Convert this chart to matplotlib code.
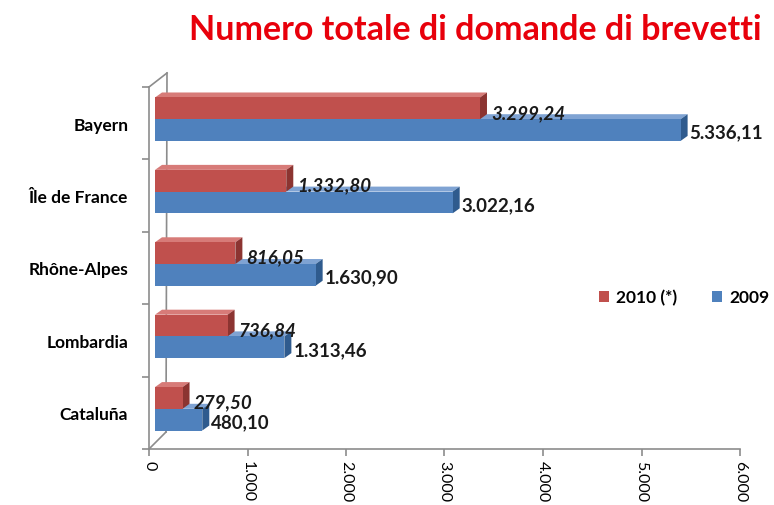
import numpy as np
import matplotlib.pyplot as plt
from matplotlib.patches import Polygon, Rectangle
from matplotlib.transforms import ScaledTranslation

plt.rcParams['font.family'] = ['Lato', 'DejaVu Sans']

regions = ['Cataluña', 'Lombardia', 'Rhône-Alpes', 'Île de France', 'Bayern']
val_2010 = [279.50, 736.84, 816.05, 1332.80, 3299.24]
val_2009 = [480.10, 1313.46, 1630.90, 3022.16, 5336.11]
lab_2010 = ['279,50', '736,84', '816,05', '1.332,80', '3.299,24']
lab_2009 = ['480,10', '1.313,46', '1.630,90', '3.022,16', '5.336,11']
xticks = [0, 1000, 2000, 3000, 4000, 5000, 6000]
xtick_labels = ['0', '1.000', '2.000', '3.000', '4.000', '5.000', '6.000']

red, red_side, red_top = '#C0504D', '#8C3431', '#D77B78'
blue, blue_side, blue_top = '#4F81BD', '#2F5B8E', '#7FA3D3'

fig = plt.figure(figsize=(7.74, 5.06), dpi=100)
ax = fig.add_axes([149 / 774, 56 / 506, 591 / 774, 362 / 506])
ax.set_xlim(0, 6000)
ax.set_ylim(-0.5, 4.5)

# pixel shift helper (3D look)
def shift(dx, dy):
    return ax.transData + ScaledTranslation(dx / 100, dy / 100, fig.dpi_scale_trans)

h = 0.3
front = shift(6, 4)
dxp, dyp = 7, 5  # depth in pixels
px_x = 6000 / 591  # data units per pixel
px_y = 5 / 362
ddx, ddy = dxp * px_x, dyp * px_y

# back wall lines
ax.plot([0, 18 * px_x], [4.5, 4.5 + 14 * px_y], color='#8c8c8c', lw=1.2, clip_on=False, zorder=1)
ax.plot([0, 17 * px_x], [-0.5, -0.5 + 17 * px_y], color='#8c8c8c', lw=1.2, clip_on=False, zorder=1)
ax.plot([18 * px_x, 17 * px_x], [4.5 + 14 * px_y, -0.5 + 17 * px_y], color='#8c8c8c', lw=1.2,
        clip_on=False, zorder=1)


def bar3d(y0, w, col, side, top, z):
    ax.add_patch(Polygon([[0, y0 + h], [w, y0 + h], [w + ddx, y0 + h + ddy], [ddx, y0 + h + ddy]],
                         closed=True, fc=top, ec='none', transform=front, zorder=z, clip_on=False))
    ax.add_patch(Polygon([[w, y0], [w + ddx, y0 + ddy], [w + ddx, y0 + h + ddy], [w, y0 + h]],
                         closed=True, fc=side, ec='none', transform=front, zorder=z, clip_on=False))
    ax.add_patch(Rectangle((0, y0), w, h, fc=col, ec='none', transform=front, zorder=z + 0.1,
                           clip_on=False))


for i in range(len(regions)):
    bar3d(i - h, val_2009[i], blue, blue_side, blue_top, 3)
    bar3d(i, val_2010[i], red, red_side, red_top, 4)
    ax.text(val_2010[i], i + h / 2, lab_2010[i], transform=shift(17, 0), fontsize=13.5,
            fontweight='bold', style='italic', color='#1a1a1a', va='center', ha='left', zorder=6)
    ax.text(val_2009[i], i - h / 2, lab_2009[i], transform=shift(15, 2), fontsize=13.5,
            fontweight='bold', color='#1a1a1a', va='center', ha='left', zorder=6)

for s in ['top', 'right']:
    ax.spines[s].set_visible(False)
for s in ['left', 'bottom']:
    ax.spines[s].set_color('#8c8c8c')
    ax.spines[s].set_linewidth(1.2)

ax.set_yticks(range(len(regions)))
ax.set_yticklabels(regions, fontsize=12.5, fontweight='bold')
ax.set_yticks(np.arange(-0.5, 5, 1), minor=True)
ax.tick_params(axis='y', which='major', length=0, pad=15)
ax.tick_params(axis='y', which='minor', length=5, color='#8c8c8c', width=1.2)
ax.set_xticks(xticks)
ax.set_xticklabels(xtick_labels, rotation=-90, fontsize=11.5)
ax.tick_params(axis='x', length=5, color='#8c8c8c', width=1.2, pad=3)

fig.text(0.614, 0.94, 'Numero totale di domande di brevetti', color='#E8000B',
         fontsize=24.5, fontweight='bold', ha='center', va='center')

handles = [Rectangle((0, 0), 1, 1, fc=red), Rectangle((0, 0), 1, 1, fc=blue)]
fig.legend(handles, ['2010 (*)', '2009'], loc='center', bbox_to_anchor=(0.884, 0.411), ncol=2,
           frameon=False, prop={'weight': 'bold', 'size': 12.5}, handlelength=0.6,
           handleheight=0.6, handletextpad=0.4, columnspacing=2.0)

fig.savefig('out.png', dpi=100)
